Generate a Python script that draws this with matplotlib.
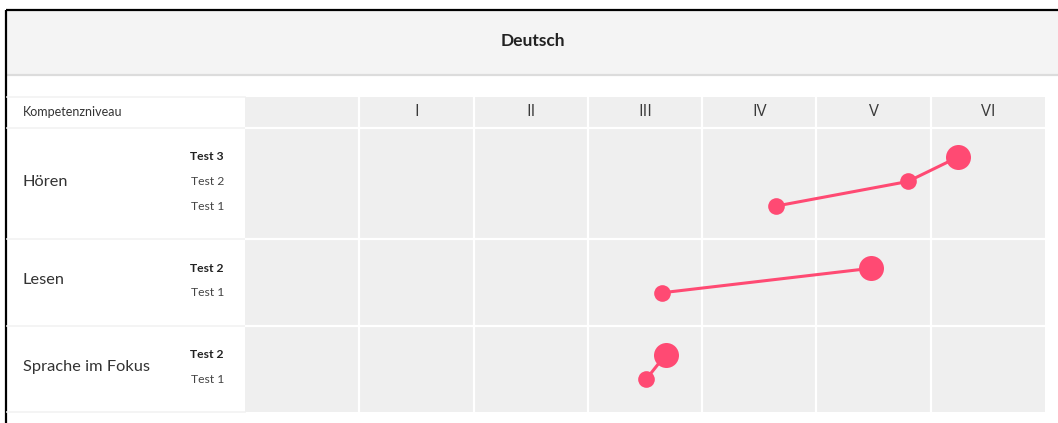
import matplotlib
matplotlib.use("Agg")
import matplotlib.pyplot as plt

# data
title = "Deutsch"
levels = ["I", "II", "III", "IV", "V", "VI"]
skills = ["Hören", "Lesen", "Sprache im Fokus"]
tests = [["Test 1", "Test 2", "Test 3"], ["Test 1", "Test 2"], ["Test 1", "Test 2"]]
# position on the level scale: 1.0 = start of level I, 2.0 = start of II, ...
hoeren = [4.65, 5.80, 6.24]
lesen = [3.65, 5.48]
sprache = [3.51, 3.68]
results = [hoeren, lesen, sprache]

# layout (figure pixels)
W, H = 1058, 423
grid_left, grid_right = 245, 1045
grid_top, grid_bottom = 97, 412
row_edges = [128, 239, 326, 412]
row_step = 24.5
red = "#ff4a73"
font = "Lato"

fig = plt.figure(figsize=(W / 100, H / 100), dpi=100)
bg = fig.add_axes([0, 0, 1, 1])
bg.set_xlim(0, W)
bg.set_ylim(H, 0)
bg.axis("off")

# header band
bg.fill_between([7, W], 11, 74, color="#f4f4f4", lw=0)
bg.plot([7, W], [75, 75], color="#dcdcdc", lw=1.6)
bg.text((7 + W) / 2, 41, title, ha="center", va="center", fontsize=12.5,
        fontweight="bold", family=font, color="#222222")

# black frame (top and left)
bg.plot([6, W], [10, 10], color="black", lw=1.6, solid_capstyle="butt")
bg.plot([6, 6], [10, H], color="black", lw=1.6, solid_capstyle="butt")

# faint separators in label column
for y in [grid_top] + row_edges:
    bg.plot([7, grid_left], [y, y], color="#f2f2f2", lw=1.2)

bg.text(23, 112, "Kompetenzniveau", ha="left", va="center", fontsize=9,
        family=font, color="#333333")

# grid panel
ax = fig.add_axes([grid_left / W, 1 - grid_bottom / H,
                   (grid_right - grid_left) / W, (grid_bottom - grid_top) / H])
ax.set_xlim(0, 7)
ax.set_ylim(grid_bottom, grid_top)
ax.set_facecolor("#efefef")
for s in ax.spines.values():
    s.set_visible(False)
ax.set_xticks([])
ax.set_yticks([])
for k in range(1, 7):
    ax.axvline(k, color="white", lw=1.6)
for y in row_edges[:-1]:
    ax.axhline(y, color="white", lw=1.6)

for i, lv in enumerate(levels):
    ax.text(i + 1.5, 112, lv, ha="center", va="center", fontsize=12,
            family="Open Sans", color="#3a3a3a")

for r, skill in enumerate(skills):
    y0, y1 = row_edges[r], row_edges[r + 1]
    mid = (y0 + y1) / 2 - 2
    n = len(tests[r])
    ys = [mid + (n - 1) / 2 * row_step - j * row_step for j in range(n)]
    bg.text(23, mid, skill, ha="left", va="center", fontsize=11.8,
            family=font, color="#333333")
    for j, t in enumerate(tests[r]):
        last = j == n - 1
        bg.text(224, ys[j], t, ha="right", va="center", fontsize=8.7,
                family=font, color="#222222" if last else "#444444",
                fontweight="bold" if last else "normal")
    ax.plot(results[r], ys, color=red, lw=2.2, zorder=3)
    sizes = [12] * (n - 1) + [18]
    for x, y, s in zip(results[r], ys, sizes):
        ax.plot(x, y, "o", color=red, ms=s, mew=0, zorder=4)

fig.savefig("out.png", dpi=100)
